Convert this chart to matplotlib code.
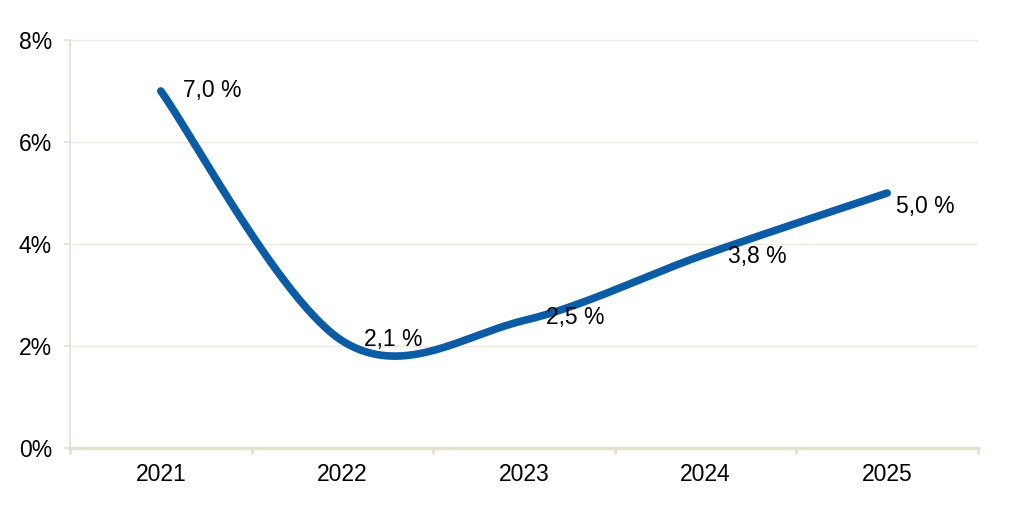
import matplotlib.pyplot as plt
import numpy as np

plt.rcParams['font.family'] = ['Liberation Sans', 'DejaVu Sans']

years = ["2021", "2022", "2023", "2024", "2025"]
values = [7.0, 2.1, 2.5, 3.8, 5.0]
labels = ["7,0 %", "2,1 %", "2,5 %", "3,8 %", "5,0 %"]
y_ticks = [0, 2, 4, 6, 8]

# label offsets in pixels (dx, dy)
offsets = [(22, 1), (22, 1), (22, 3), (22, -2), (9, -14)]

line_col = "#0B5CA4"
grid_col = "#EEE9DD"
axis_col = "#E6E0D2"


def smooth(xs, ys, n=60):
    # excel-style smoothed line (catmull-rom as cubic bezier)
    pts = np.column_stack([xs, ys]).astype(float)
    ext = np.vstack([pts[0], pts, pts[-1]])
    out = []
    t = np.linspace(0, 1, n)[:, None]
    for i in range(len(pts) - 1):
        p0, p3 = ext[i + 1], ext[i + 2]
        c1 = p0 + (ext[i + 2] - ext[i]) / 6
        c2 = p3 - (ext[i + 3] - ext[i + 1]) / 6
        seg = ((1 - t) ** 3) * p0 + 3 * ((1 - t) ** 2) * t * c1 + 3 * (1 - t) * t ** 2 * c2 + t ** 3 * p3
        out.append(seg)
    seg = np.vstack(out)
    return seg[:, 0], seg[:, 1]


fig = plt.figure(figsize=(10.12, 5.09), dpi=100)
ax = fig.add_axes([70 / 1012, 1 - 448 / 509, 908 / 1012, 408 / 509])

x = np.arange(len(years))
sx, sy = smooth(x, values)
ax.plot(sx, sy, color=line_col, lw=5.5, solid_capstyle='round', zorder=3)

for xi, v, lab, (dx, dy) in zip(x, values, labels, offsets):
    ax.annotate(lab, (xi, v), xytext=(dx * 0.72, dy * 0.72), textcoords='offset points',
                ha='left', va='center', fontsize=16.5, color='black', zorder=4)

ax.set_xlim(-0.5, len(years) - 0.5)
ax.set_ylim(0, 8)
ax.set_yticks(y_ticks)
ax.set_yticklabels([f"{t}%" for t in y_ticks])
ax.set_xticks(x)
ax.set_xticklabels(years)
ax.set_xticks(np.arange(-0.5, len(years), 1), minor=True)

ax.grid(axis='y', color=grid_col, lw=1, zorder=0)
for s in ['top', 'right']:
    ax.spines[s].set_visible(False)
ax.spines['left'].set_color(axis_col)
ax.spines['left'].set_linewidth(1.2)
ax.spines['bottom'].set_color(axis_col)
ax.spines['bottom'].set_linewidth(2.5)

ax.tick_params(axis='x', which='major', length=0, pad=11, labelsize=16.5)
ax.tick_params(axis='x', which='minor', length=4, width=2, color=axis_col)
ax.tick_params(axis='y', length=4, width=1.2, color=axis_col, pad=9, labelsize=16.5)

fig.savefig("out.png", dpi=100)
